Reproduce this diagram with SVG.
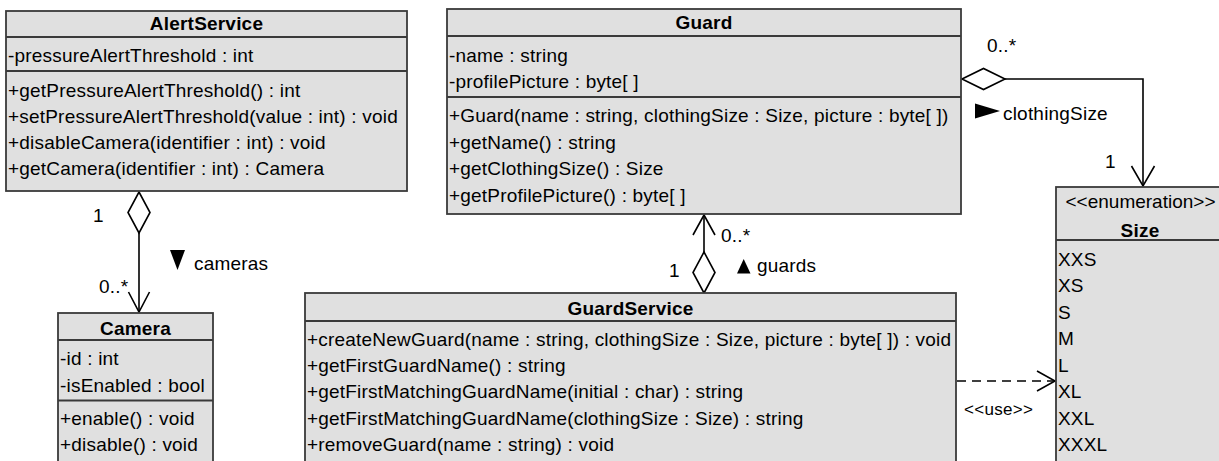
<svg xmlns="http://www.w3.org/2000/svg" width="1219" height="461" viewBox="0 0 1219 461">
<style>
.box{fill:#e0e0e0;stroke:#3a3a3a;stroke-width:1.8}
.div{stroke:#3a3a3a;stroke-width:1.8;fill:none}
text{font-family:"Liberation Sans",Arial,sans-serif;font-size:19px;letter-spacing:0.2px;fill:#000}
.t{font-weight:bold;text-anchor:middle;letter-spacing:0.2px}
.c{text-anchor:middle}
.ln{stroke:#000;stroke-width:1.6;fill:none}
.dia{fill:#fff;stroke:#000;stroke-width:1.6}
.tri{fill:#000}
.dash{stroke:#000;stroke-width:1.6;fill:none;stroke-dasharray:9 6}
</style>
<rect width="1219" height="461" fill="#fff"/>
<g id="connectors">
  <line class="ln" x1="139" y1="233" x2="139" y2="312"/>
  <polyline class="ln" points="128.5,292 139,312 149.5,292"/>
  <polygon class="dia" points="139,192 150,212.5 139,233 128,212.5"/>
  <text x="93" y="222">1</text>
  <text x="99" y="293">0..*</text>
  <polygon class="tri" points="170,250 185,250 177.5,270"/>
  <text x="194" y="269.5">cameras</text>
  <polyline class="ln" points="1005,79 1143,79 1143,186"/>
  <polyline class="ln" points="1131.5,166 1143,186 1154.5,166"/>
  <polygon class="dia" points="962,79 983.5,68.5 1005,79 983.5,89.5"/>
  <text x="987" y="52">0..*</text>
  <polygon class="tri" points="975,103.5 975,118.5 1000,111"/>
  <text x="1003" y="120">clothingSize</text>
  <text x="1105" y="168">1</text>
  <line class="ln" x1="704" y1="252" x2="704" y2="215"/>
  <polyline class="ln" points="693,235 704,215 715,235"/>
  <polygon class="dia" points="704,293 715,272.5 704,252 693,272.5"/>
  <text x="669" y="277">1</text>
  <text x="721" y="242">0..*</text>
  <polygon class="tri" points="737,273.5 750.5,273.5 743.7,259"/>
  <text x="757" y="272">guards</text>
  <line class="dash" x1="957" y1="381" x2="1055" y2="381"/>
  <polyline class="ln" points="1037,371 1055,381 1037,391"/>
  <text x="964" y="415" style="font-size:17px;letter-spacing:0.3px">&lt;&lt;use&gt;&gt;</text>
</g>
<g id="AlertService">
  <rect class="box" x="6" y="11" width="401" height="180"/>
  <line class="div" x1="6" y1="37" x2="407" y2="37"/>
  <line class="div" x1="6" y1="71" x2="407" y2="71"/>
  <text class="t" x="206.5" y="30">AlertService</text>
  <text x="8" y="61.5">-pressureAlertThreshold : int</text>
  <text x="8" y="97">+getPressureAlertThreshold() : int</text>
  <text x="8" y="123">+setPressureAlertThreshold(value : int) : void</text>
  <text x="8" y="148.5">+disableCamera(identifier : int) : void</text>
  <text x="8" y="174.5">+getCamera(identifier : int) : Camera</text>
</g>
<g id="Guard">
  <rect class="box" x="447" y="9" width="514" height="205"/>
  <line class="div" x1="447" y1="36" x2="961" y2="36"/>
  <line class="div" x1="447" y1="97" x2="961" y2="97"/>
  <text class="t" x="704" y="29">Guard</text>
  <text x="449" y="62">-name : string</text>
  <text x="449" y="88">-profilePicture : byte[ ]</text>
  <text x="449" y="122">+Guard(name : string, clothingSize : Size, picture : byte[ ])</text>
  <text x="449" y="148.5">+getName() : string</text>
  <text x="449" y="175">+getClothingSize() : Size</text>
  <text x="449" y="201.5">+getProfilePicture() : byte[ ]</text>
</g>
<g id="Size">
  <rect class="box" x="1056" y="187" width="170" height="290"/>
  <line class="div" x1="1056" y1="240" x2="1226" y2="240"/>
  <text class="c" x="1140.5" y="207.5" style="letter-spacing:0px">&lt;&lt;enumeration&gt;&gt;</text>
  <text class="t" x="1140" y="237">Size</text>
  <text x="1058" y="265.5">XXS</text>
  <text x="1058" y="292">XS</text>
  <text x="1058" y="318.5">S</text>
  <text x="1058" y="345">M</text>
  <text x="1058" y="371.5">L</text>
  <text x="1058" y="398">XL</text>
  <text x="1058" y="424.5">XXL</text>
  <text x="1058" y="451">XXXL</text>
</g>
<g id="Camera">
  <rect class="box" x="58" y="313" width="155" height="170"/>
  <line class="div" x1="58" y1="340" x2="213" y2="340"/>
  <line class="div" x1="58" y1="400.5" x2="213" y2="400.5"/>
  <text class="t" x="135.5" y="334.5">Camera</text>
  <text x="60" y="365">-id : int</text>
  <text x="60" y="391.5">-isEnabled : bool</text>
  <text x="60" y="425">+enable() : void</text>
  <text x="60" y="451">+disable() : void</text>
</g>
<g id="GuardService">
  <rect class="box" x="305" y="293" width="651" height="190"/>
  <line class="div" x1="305" y1="321" x2="956" y2="321"/>
  <text class="t" x="630.5" y="314.5">GuardService</text>
  <text x="307" y="346">+createNewGuard(name : string, clothingSize : Size, picture : byte[ ]) : void</text>
  <text x="307" y="372">+getFirstGuardName() : string</text>
  <text x="307" y="398">+getFirstMatchingGuardName(initial : char) : string</text>
  <text x="307" y="424.5">+getFirstMatchingGuardName(clothingSize : Size) : string</text>
  <text x="307" y="450.5">+removeGuard(name : string) : void</text>
</g>
</svg>
